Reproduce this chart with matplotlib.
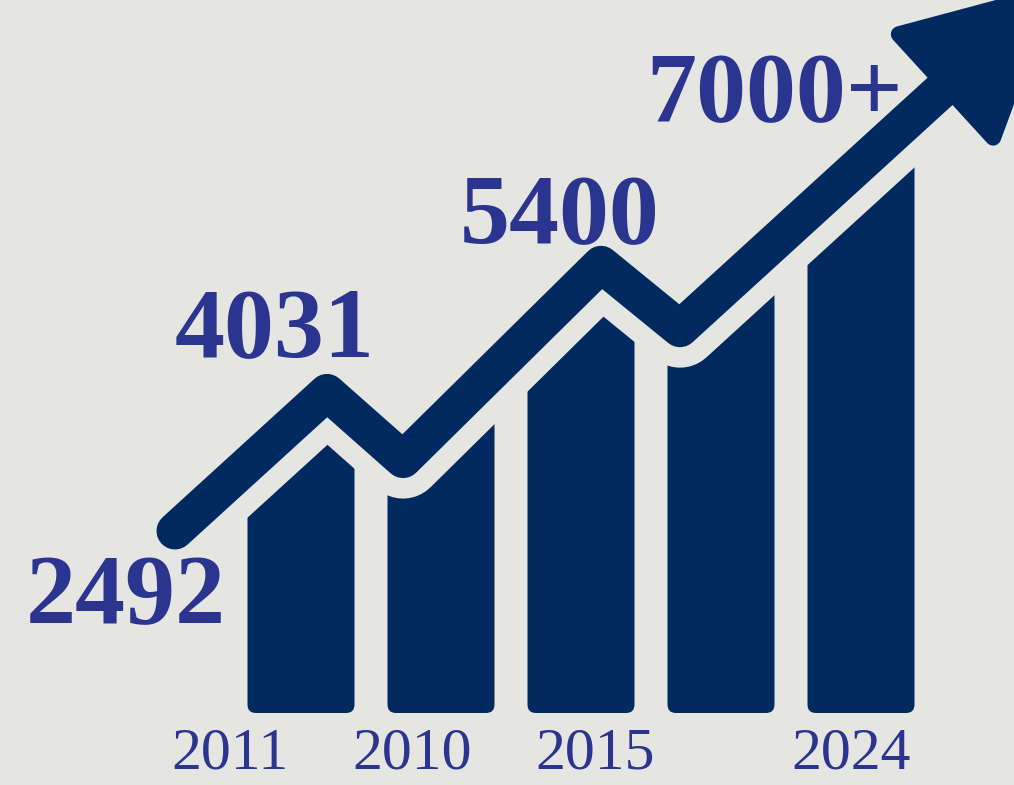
import numpy as np
import matplotlib.pyplot as plt
from matplotlib.patches import FancyBboxPatch, Polygon

# colours
bg = "#e5e5e1"
navy = "#002a60"
ink = "#2b348f"

# bars (slot index, height of the bar before the arrow cuts it)
bar_x = [0, 1, 2, 3, 4]
bar_h = [2.2, 2.3, 3.0, 3.2, 4.2]

# trend arrow through the chart (centre line)
trend_x = [-0.90, 0.186, 0.729, 2.143, 2.707, 4.607]
trend_y = [1.300, 2.290, 1.810, 3.205, 2.745, 4.479]

# labels
counts = ["2492", "4031", "5400", "7000+"]
years = ["2011", "2010", "2015", "2024"]

# label layout
count_x = [-1.25, -0.186, 1.85, 3.386]
count_y = [0.643, 2.55, 3.357, 4.229]
year_x = [-0.507, 0.793, 2.10, 3.93]
year_y = -0.393

px = 140.0  # pixels per unit
pt = 72.0 / 100  # points per pixel

fig = plt.figure(figsize=(10.14, 7.85), dpi=100, facecolor=bg)
ax = fig.add_axes([0, 0, 1, 1])
ax.set_facecolor(bg)
ax.set_xlim(-301 / px, (1014 - 301) / px)
ax.set_ylim((713 - 785) / px, 713 / px)
ax.axis("off")

bw = 107 / px
for x, h in zip(bar_x, bar_h):
    ax.add_patch(FancyBboxPatch((x - bw / 2, 0), bw, h,
                                boxstyle="round,pad=0,rounding_size=0.06",
                                fc=navy, ec="none", zorder=1))

# everything above the arrow is background
ax.fill_between(trend_x, trend_y, 10, color=bg, lw=0, zorder=2)

# light gap round the arrow, then the arrow itself
ax.plot(trend_x, trend_y, color=bg, lw=78 * pt, solid_joinstyle="round",
        solid_capstyle="round", zorder=3)
ax.plot(trend_x, trend_y, color=navy, lw=37 * pt, solid_joinstyle="round",
        solid_capstyle="round", zorder=4)

# arrow head
b = np.array([trend_x[-1], trend_y[-1]])
u = b - np.array([trend_x[-2], trend_y[-2]])
u = u / np.linalg.norm(u)
n = np.array([-u[1], u[0]])
half = 70 / px
length = 135 / px
head = [b + n * half, b + u * length, b - n * half]
ax.add_patch(Polygon(head, closed=True, fc=navy, ec=navy, lw=16 * pt,
                     joinstyle="round", zorder=5))

for s, x, y in zip(counts, count_x, count_y):
    ax.text(x, y, s, ha="center", va="baseline", color=ink, fontsize=72,
            fontweight="bold", family="Liberation Serif", zorder=6)

for s, x in zip(years, year_x):
    ax.text(x, year_y, s, ha="center", va="baseline", color=ink, fontsize=43,
            family="Liberation Serif", zorder=6)

fig.savefig("out.png", dpi=100, facecolor=bg)
